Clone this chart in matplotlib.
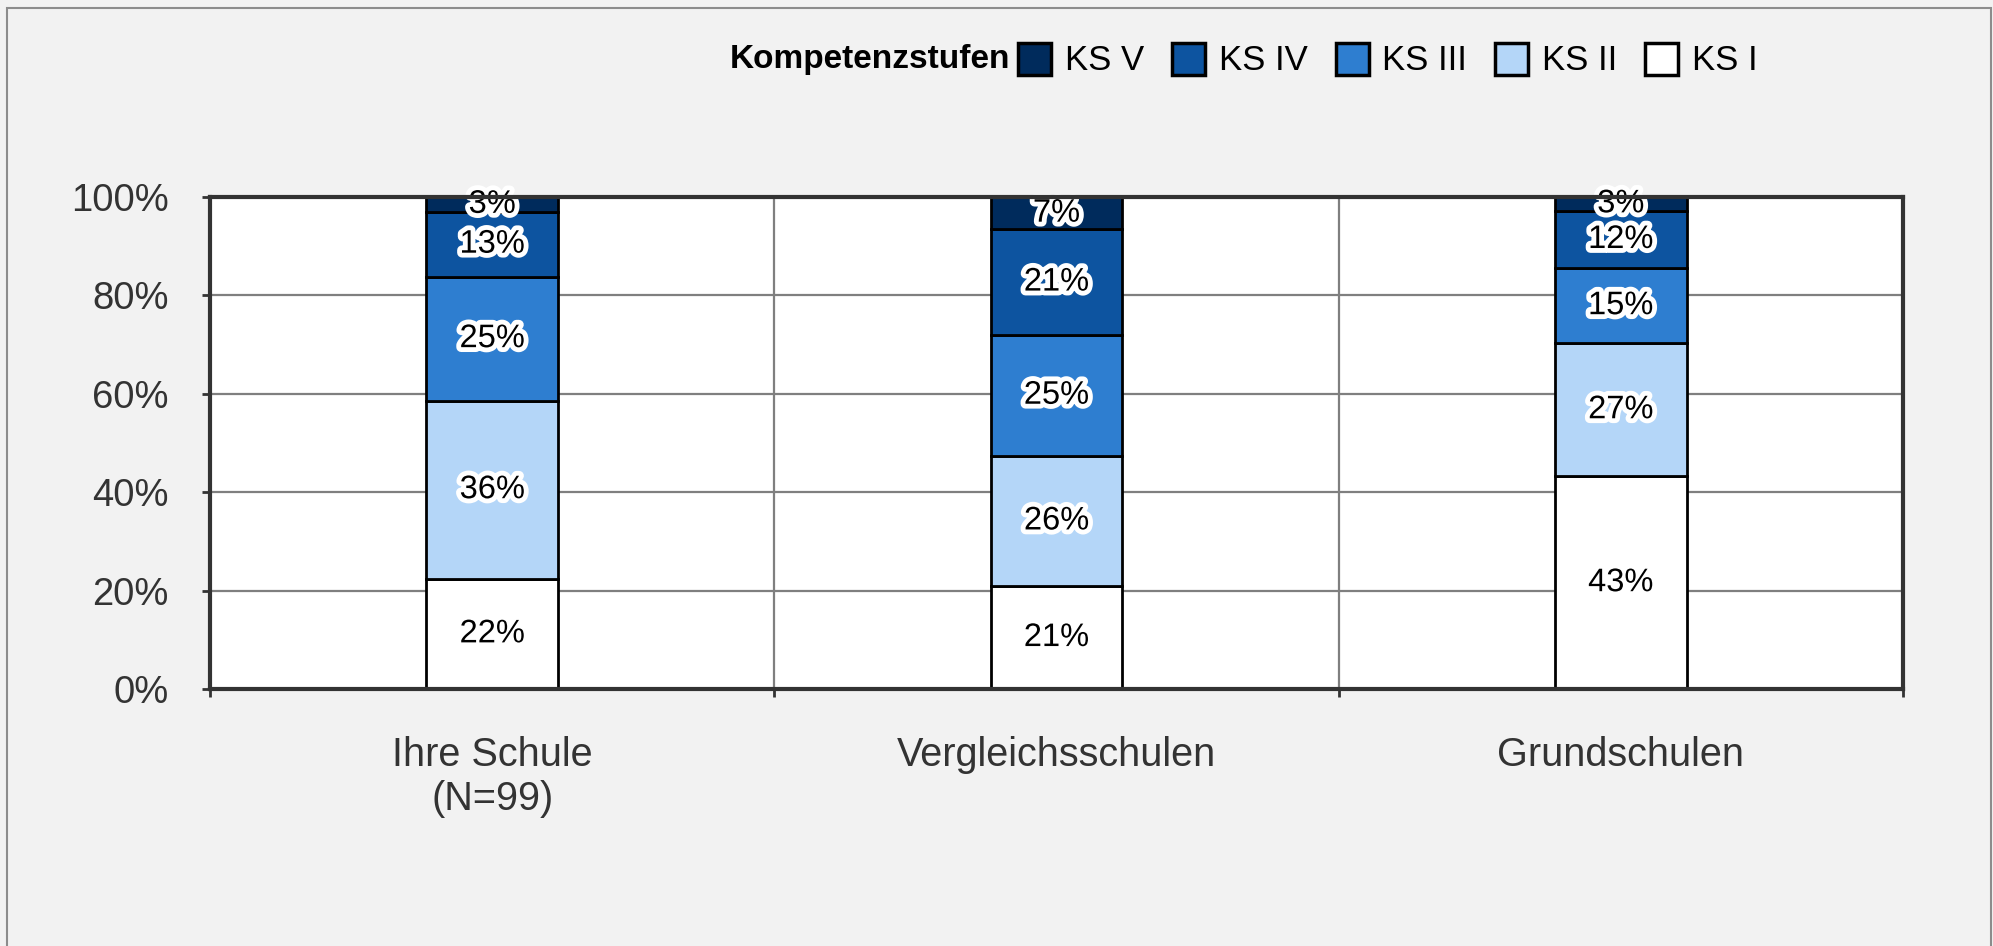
import matplotlib
matplotlib.use("Agg")
import matplotlib.pyplot as plt
import matplotlib.patheffects as pe
from matplotlib.patches import Patch, Rectangle
import numpy as np

plt.rcParams['font.family'] = ['Liberation Sans', 'DejaVu Sans']

categories = ['Ihre Schule\n(N=99)', 'Vergleichsschulen', 'Grundschulen']
levels = ['KS I', 'KS II', 'KS III', 'KS IV', 'KS V']
ks1 = [22.4, 20.9, 43.2]
ks2 = [36.2, 26.5, 27.1]
ks3 = [25.2, 24.6, 15.2]
ks4 = [13.2, 21.4, 11.7]
ks5 = [3.0, 6.6, 2.8]
labels1 = ['22%', '21%', '43%']
labels2 = ['36%', '26%', '27%']
labels3 = ['25%', '25%', '15%']
labels4 = ['13%', '21%', '12%']
labels5 = ['3%', '7%', '3%']
colors = ['#ffffff', '#b4d6f8', '#2e7ed0', '#0d54a0', '#002b5c']

series = [ks1, ks2, ks3, ks4, ks5]
series_labels = [labels1, labels2, labels3, labels4, labels5]

fig = plt.figure(figsize=(19.93, 9.46), dpi=100, facecolor='#f2f2f2')
ax = fig.add_axes([0.1054, 0.2717, 0.8494, 0.5201])
ax.set_facecolor('white')

# figure frame
fig.patches.append(Rectangle((7 / 1993, -0.05), 1 - 9 / 1993, 1 - 8 / 946 + 0.05,
                             transform=fig.transFigure, fill=False,
                             edgecolor='#8c8c8c', linewidth=1.5))

x = np.arange(len(categories))
bottom = np.zeros(len(categories))
handles = []
for vals, labs, col, name in zip(series, series_labels, colors, levels):
    ax.bar(x, vals, width=0.233, bottom=bottom, color=col,
           edgecolor='black', linewidth=2, zorder=3, label=name)
    for xi, b, v, lab in zip(x, bottom, vals, labs):
        t = ax.text(xi, b + v / 2, lab, ha='center', va='center', fontsize=23.5,
                    color='black', zorder=5)
        t.set_path_effects([pe.withStroke(linewidth=7, foreground='white')])
    bottom += np.array(vals)
    handles.append(Patch(facecolor=col, edgecolor='black', linewidth=2.5, label=name))

ax.set_xlim(-0.5, 2.5)
ax.set_ylim(0, 100)
ax.set_yticks([0, 20, 40, 60, 80, 100])
ax.set_yticklabels(['0%', '20%', '40%', '60%', '80%', '100%'])
ax.yaxis.grid(True, color='#7f7f7f', linewidth=1.6, zorder=1)
for xb in [0.5, 1.5]:
    ax.axvline(xb, color='#7f7f7f', linewidth=1.6, zorder=1)

ax.set_xticks(x)
ax.set_xticklabels(categories)
ax.set_xticks([-0.5, 0.5, 1.5, 2.5], minor=True)
ax.tick_params(axis='x', which='major', length=0, pad=34, labelsize=28.5, labelcolor='#333333')
ax.tick_params(axis='x', which='minor', length=6, width=2, color='#333333', direction='out')
ax.tick_params(axis='y', length=6, width=2, color='#333333', pad=24, labelsize=27.5,
               labelcolor='#333333')
for lab in ax.get_xticklabels():
    lab.set_linespacing(1.2)

for s in ax.spines.values():
    s.set_color('#333333')
    s.set_linewidth(3)
    s.set_zorder(6)

fig.text(0.507, 0.9366, 'Kompetenzstufen', ha='right', va='center', fontsize=24,
         fontweight='bold')
fig.legend(handles=handles[::-1], loc='center left', bbox_to_anchor=(0.511, 0.9366),
           ncol=5, frameon=False, fontsize=25, handlelength=0.95, handleheight=1.05,
           handletextpad=0.4, columnspacing=0.8, borderaxespad=0, borderpad=0)

fig.savefig('out.png', dpi=100, facecolor=fig.get_facecolor())
